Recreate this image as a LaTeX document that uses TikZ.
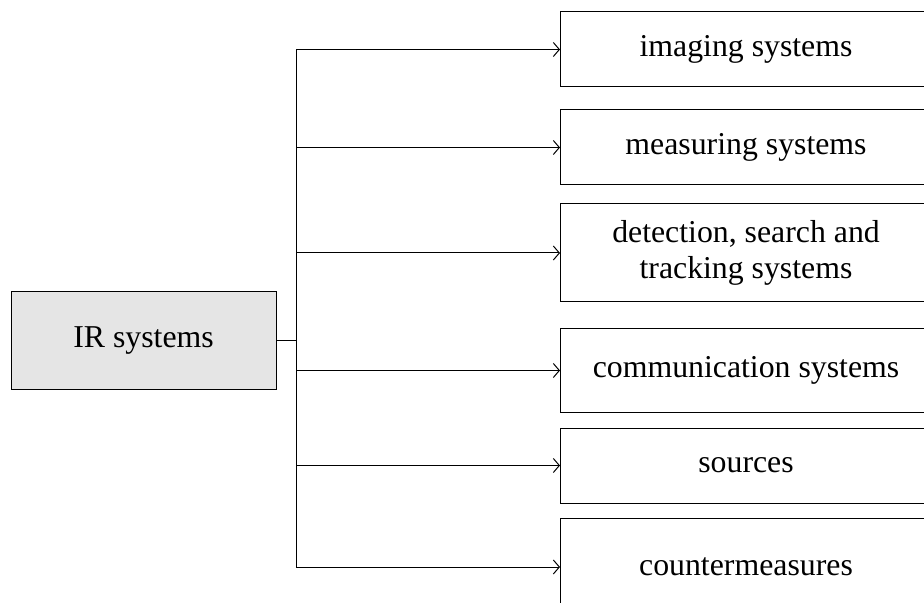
\documentclass[tikz,border=0pt]{standalone}
\usepackage{fontspec}
\setmainfont{Liberation Serif}
\usetikzlibrary{arrows.meta}

\begin{document}
\begin{tikzpicture}[x=0.5pt, y=-0.5pt, font=\fontsize{15.9}{18}\selectfont,
    every node/.style={draw, inner sep=0pt, outer sep=0pt, align=center, line width=0.5pt},
    branch/.style={-{Straight Barb[length=3pt, width=7pt]}, line width=0.5pt},
    line join=miter]
        \useasboundingbox (0,0) rectangle (924,603);
        \node[fill=black!10, minimum width=132.5pt, minimum height=48.5pt] (ir) at (143.5, 340.5) {IR systems};
        \node[minimum width=186pt, minimum height=37.5pt] (img) at (746, 49.5) {imaging systems};
        \node[minimum width=186pt, minimum height=37.5pt] (meas) at (746, 147.5) {measuring systems};
        \node[minimum width=186pt, minimum height=49pt] (det) at (746, 253) {detection, search and\\tracking systems};
        \node[minimum width=186pt, minimum height=41.5pt] (comm) at (746, 370.5) {communication systems};
        \node[minimum width=186pt, minimum height=37.5pt] (src) at (746, 465.5) {sources};
        \node[minimum width=186pt, minimum height=49pt] (cm) at (746, 567) {countermeasures};
        \coordinate (fork) at (296, 340.5);
        \draw[line width=0.5pt] (ir.east) -- (fork);
        \draw[line width=0.5pt] (fork |- img.west) -- (fork |- cm.west);
        \foreach \n in {img, meas, det, comm, src, cm}
            \draw[branch] (fork |- \n.west) -- (\n.west);
\end{tikzpicture}
\end{document}
